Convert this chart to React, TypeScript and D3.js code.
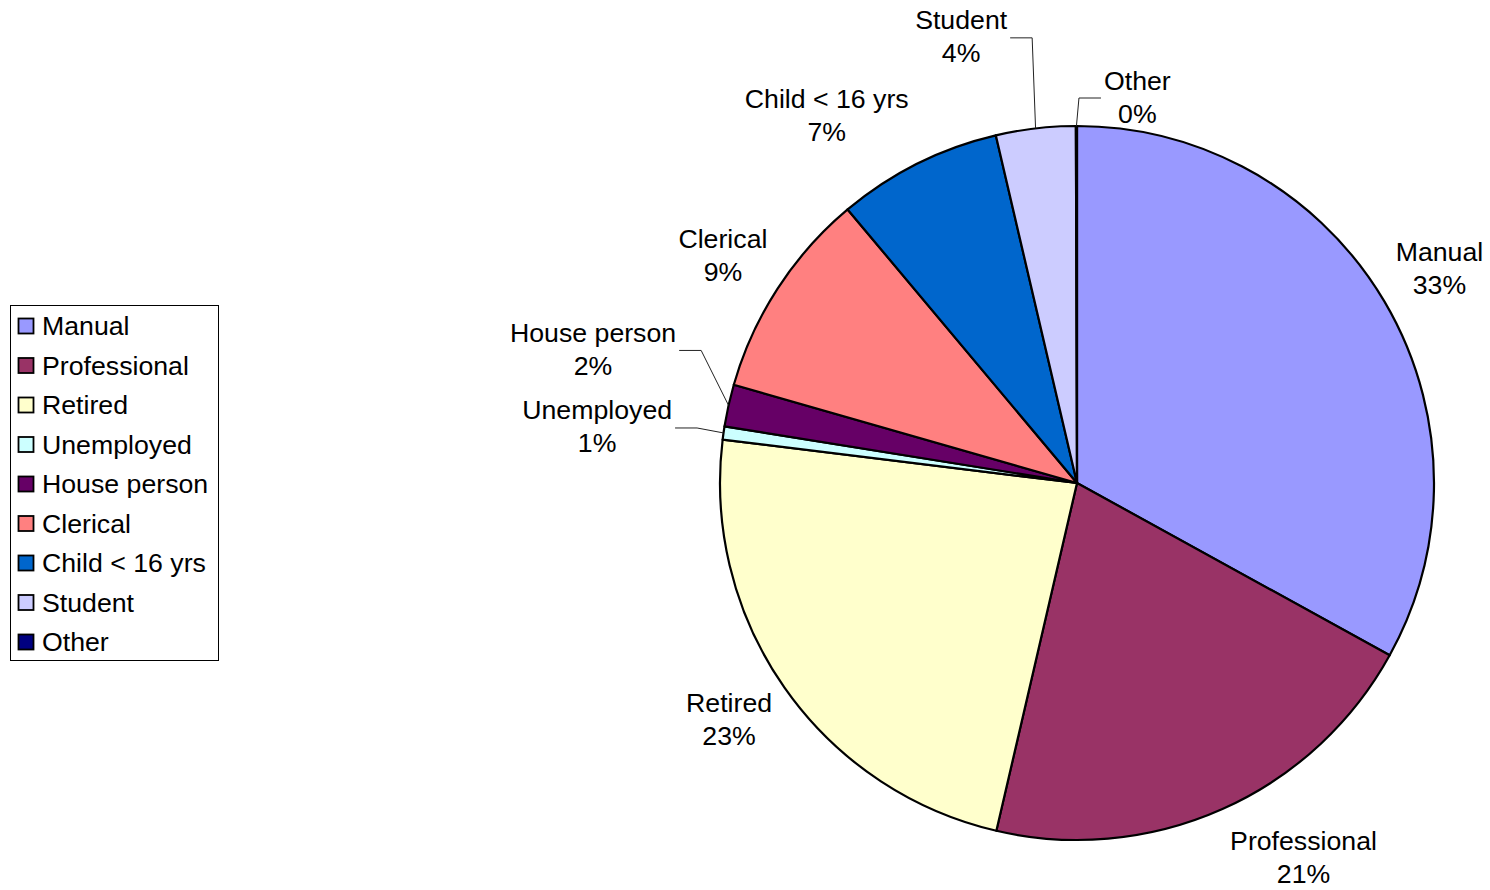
import React from "react";
import * as d3 from "d3";

const categories = ["Manual", "Professional", "Retired", "Unemployed", "House person", "Clerical", "Child < 16 yrs", "Student", "Other"];
const values = [33.0, 20.6, 23.3, 0.6, 1.9, 9.45, 7.45, 3.6, 0.05];
const colors = ["#9999FF", "#993366", "#FFFFCC", "#CCFFFF", "#660066", "#FF8080", "#0066CC", "#CCCCFF", "#000080"];

// layout (not data)
const W = 1490, H = 890;
const CX = 1077, CY = 483, R = 357;
const LABEL_R = 421;
const FONT = "'Liberation Sans', Arial, sans-serif";
const FS = 26.7;
const labelNudge: Record<string, [number, number]> = {
  "Manual": [0, 0],
  "Professional": [55, -10],
  "Retired": [-3, -5],
  "Unemployed": [-63, 3],
  "House person": [-73, -42],
  "Clerical": [-1, 2],
  "Child < 16 yrs": [-62, 9],
  "Student": [-67, -28],
  "Other": [61, 35],
};
const withLeader = new Set(["Unemployed", "House person", "Student", "Other"]);

let ctx: CanvasRenderingContext2D | null = null;
function textW(s: string) {
  if (!ctx) ctx = document.createElement("canvas").getContext("2d");
  if (!ctx) return s.length * FS * 0.55;
  ctx.font = `${FS}px 'Liberation Sans', Arial, sans-serif`;
  return ctx.measureText(s).width;
}

export default function App() {
  const data = categories.map((c, i) => ({ name: c, value: values[i], color: colors[i] }));
  const total = d3.sum(values);
  const pie = d3.pie<any>().value((d) => d.value).sort(null).startAngle(0).endAngle(2 * Math.PI);
  const arcs = pie(data);
  const arc = d3.arc<any>().innerRadius(0).outerRadius(R);

  return (
    <svg width={W} height={H} style={{ position: "absolute", left: 0, top: 0, background: "#fff" }} fontFamily={FONT}>
      <g transform={`translate(${CX},${CY})`}>
        {arcs.map((a, i) => (
          <path key={i} d={arc(a) || ""} fill={a.data.color} stroke="#000" strokeWidth={2.2} strokeLinejoin="round" />
        ))}
      </g>
      {arcs.map((a, i) => {
        const mid = (a.startAngle + a.endAngle) / 2;
        const [nx, ny] = labelNudge[a.data.name] || [0, 0];
        const lx = CX + LABEL_R * Math.sin(mid) + nx;
        const ly = CY - LABEL_R * Math.cos(mid) + ny;
        const pct = `${Math.round((a.data.value / total) * 100)}%`;
        let leader = null;
        if (withLeader.has(a.data.name)) {
          const px = CX + R * Math.sin(mid);
          const py = CY - R * Math.cos(mid);
          const halfW = Math.max(textW(a.data.name), textW(pct)) / 2;
          const dir = px > lx ? 1 : -1;
          const edge = lx + dir * (halfW + 3);
          const elbow = edge + dir * 22;
          const yy = ly + 1;
          leader = (
            <polyline points={`${edge},${yy} ${elbow},${yy} ${px},${py}`} fill="none" stroke="#222" strokeWidth={1} />
          );
        }
        return (
          <g key={"l" + i}>
            {leader}
            <text x={lx} y={ly} textAnchor="middle" fontSize={FS} fill="#000">
              <tspan x={lx} y={ly - 16.5} dominantBaseline="central">{a.data.name}</tspan>
              <tspan x={lx} y={ly + 16.5} dominantBaseline="central">{pct}</tspan>
            </text>
          </g>
        );
      })}
      <g>
        <rect x={10.5} y={305.5} width={208} height={355} fill="#fff" stroke="#000" strokeWidth={1} />
        {data.map((d, i) => {
          const cy = 326 + i * 39.5;
          return (
            <g key={"lg" + i}>
              <rect x={18.5} y={cy - 7.5} width={15} height={15} fill={d.color} stroke="#000" strokeWidth={1.8} />
              <text x={42} y={cy} dominantBaseline="central" fontSize={FS} fill="#000">{d.name}</text>
            </g>
          );
        })}
      </g>
    </svg>
  );
}
